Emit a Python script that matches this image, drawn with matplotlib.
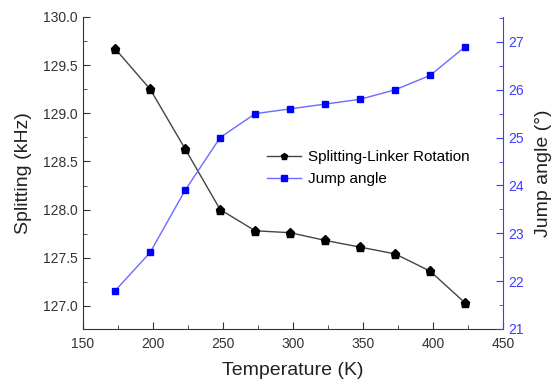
import numpy as np
import matplotlib
matplotlib.use("Agg")
import matplotlib.pyplot as plt
from matplotlib.ticker import MultipleLocator

# Temperature series and the two measured quantities
temperature = [173, 198, 223, 248, 273, 298, 323, 348, 373, 398, 423]
splitting = [129.67, 129.25, 128.63, 128.00, 127.78, 127.76, 127.68, 127.61, 127.54, 127.36, 127.03]
jump_angle = [21.8, 22.6, 23.9, 25.0, 25.5, 25.6, 25.7, 25.8, 26.0, 26.3, 26.9]

plt.rcParams['font.family'] = ['Liberation Sans', 'DejaVu Sans']

fig = plt.figure(figsize=(5.53, 3.81), dpi=100)
ax = fig.add_axes([0.150, 0.1365, 0.7596, 0.8189])
ax2 = ax.twinx()

dark = "#333333"
blue = "#3c3cff"

l1, = ax.plot(temperature, splitting, color="#444444", lw=1.0, marker="p",
              markersize=6.5, markerfacecolor="black", markeredgecolor="black",
              label="Splitting-Linker Rotation")
l2, = ax2.plot(temperature, jump_angle, color="#6b6bff", lw=1.0, marker="s",
               markersize=5, markerfacecolor="#0000ff", markeredgecolor="#0000ff",
               label="Jump angle")

ax.set_xlim(150, 450)
ax.set_ylim(126.76, 130.0)
ax2.set_ylim(21, 27.52)

ax.xaxis.set_major_locator(MultipleLocator(50))
ax.xaxis.set_minor_locator(MultipleLocator(25))
ax.yaxis.set_major_locator(MultipleLocator(0.5))
ax.yaxis.set_minor_locator(MultipleLocator(0.25))
ax2.yaxis.set_major_locator(MultipleLocator(1))
ax2.yaxis.set_minor_locator(MultipleLocator(0.5))
ax.yaxis.set_major_formatter(matplotlib.ticker.FormatStrFormatter("%.1f"))

for a in (ax, ax2):
    a.spines["top"].set_visible(False)

ax.spines["left"].set_color(dark)
ax.spines["bottom"].set_color(dark)
ax.spines["right"].set_visible(False)
ax2.spines["left"].set_visible(False)
ax2.spines["bottom"].set_visible(False)
ax2.spines["right"].set_color(blue)

ax.tick_params(axis="both", which="both", direction="in", colors=dark, labelsize=10)
ax.tick_params(which="major", length=5)
ax.tick_params(which="minor", length=3)
ax.tick_params(axis="x", pad=6)
ax2.tick_params(axis="y", which="both", direction="in", colors=blue, labelsize=10)
ax2.tick_params(which="major", length=5)
ax2.tick_params(which="minor", length=3)

ax.set_xlabel("Temperature (K)", fontsize=14, color="#222222", labelpad=8)
ax.set_ylabel("Splitting (kHz)", fontsize=14, color="#222222", labelpad=8)
ax2.set_ylabel("Jump angle (°)", fontsize=14, color="#222222", labelpad=8)

ax.legend(handles=[l1, l2], loc="center", bbox_to_anchor=(0.68, 0.515),
          frameon=False, fontsize=11, handlelength=2.2, handletextpad=0.5,
          labelspacing=0.5, markerscale=0.75)

fig.savefig("out.png", dpi=100)
